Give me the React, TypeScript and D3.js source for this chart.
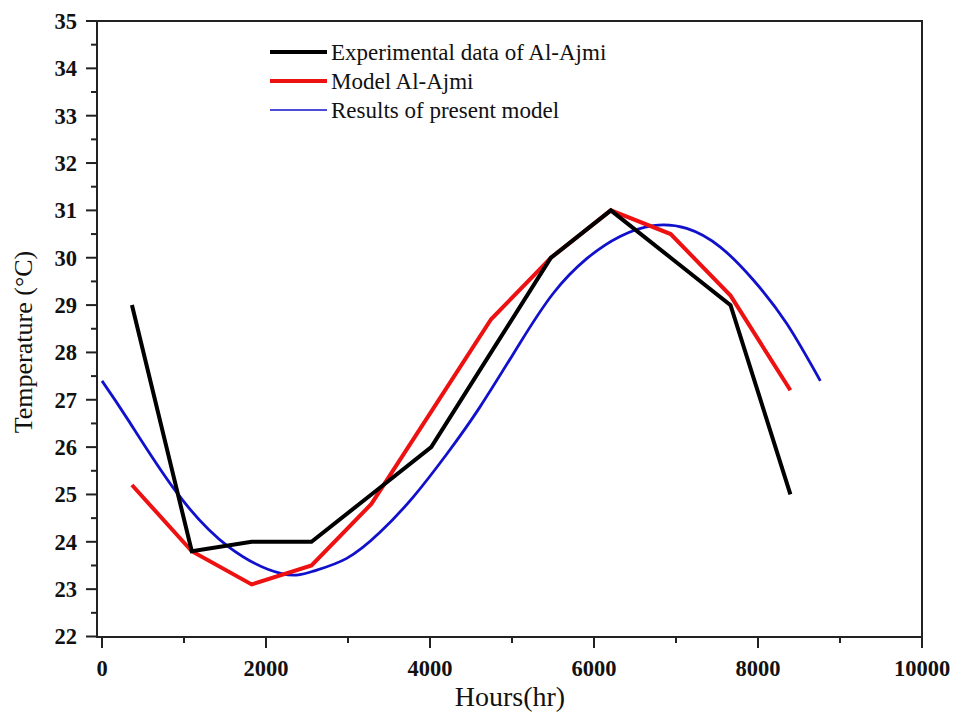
import React from "react";
import * as d3 from "d3";

const hoursMonthly = [365, 1095, 1825, 2555, 3285, 4015, 4745, 5475, 6205, 6935, 7665, 8395];
const experimental = [29.0, 23.8, 24.0, 24.0, 25.0, 26.0, 28.0, 30.0, 31.0, 30.0, 29.0, 25.0];
const modelAlAjmi = [25.2, 23.8, 23.1, 23.5, 24.8, 26.75, 28.7, 30.0, 31.0, 30.5, 29.2, 27.2];

const presentHours = [0, 320, 890, 1540, 2190, 2577, 2984, 3390, 3797, 4203, 4610, 5098, 5504, 5911, 6317, 6723, 7130, 7537, 7943, 8350, 8760];
const presentModel = [27.4, 26.57, 25.09, 23.9, 23.33, 23.38, 23.65, 24.2, 24.95, 25.85, 26.85, 28.2, 29.25, 29.98, 30.45, 30.68, 30.62, 30.23, 29.53, 28.61, 27.4];

const xTicks = [0, 2000, 4000, 6000, 8000, 10000];
const xMinor = [1000, 3000, 5000, 7000, 9000];
const yTicks = [22, 23, 24, 25, 26, 27, 28, 29, 30, 31, 32, 33, 34, 35];
const yMinor = [22.5, 23.5, 24.5, 25.5, 26.5, 27.5, 28.5, 29.5, 30.5, 31.5, 32.5, 33.5, 34.5];

const legendItems = ["Experimental data of Al-Ajmi", "Model Al-Ajmi", "Results of present model"];

export default function App() {
  const W = 958, H = 720;
  const left = 97, right = 922, top = 21, bottom = 637;
  const x = d3.scaleLinear().domain([0, 10000]).range([102, 922]);
  const y = d3.scaleLinear().domain([22, 35]).range([636.5, 21]);
  const serif = "'Liberation Serif', 'Times New Roman', serif";

  const poly = d3.line<number>().x((_, i) => x(hoursMonthly[i])).y((d) => y(d));
  const smooth = d3
    .line<number>()
    .x((_, i) => x(presentHours[i]))
    .y((d) => y(d))
    .curve(d3.curveNatural);

  const colors = ["#000000", "#ee1111", "#1111cc"];
  const legendWidths = [4, 4, 1.6];
  const legendY = [52, 81, 110];

  return (
    <svg width={W} height={H} style={{ position: "absolute", left: 0, top: 0, background: "#fff" }}>
      <rect x={0} y={0} width={W} height={H} fill="#fff" />
      {/* data */}
      <path d={smooth(presentModel) || ""} fill="none" stroke={colors[2]} strokeWidth={2.8} />
      <path d={poly(modelAlAjmi) || ""} fill="none" stroke={colors[1]} strokeWidth={4} strokeLinejoin="miter" />
      <path d={poly(experimental) || ""} fill="none" stroke={colors[0]} strokeWidth={4} strokeLinejoin="miter" />

      {/* frame */}
      <path d={`M${left},${top} H${right} V${bottom} H${left} Z`} fill="none" stroke="#222" strokeWidth={2} />

      {/* x ticks */}
      {xTicks.map((t) => (
        <g key={"xt" + t}>
          <line x1={x(t)} x2={x(t)} y1={bottom} y2={bottom + 11} stroke="#222" strokeWidth={2} />
          <text x={x(t)} y={676} textAnchor="middle" fontFamily={serif} fontWeight="bold" fontSize={22.5} fill="#111">
            {t}
          </text>
        </g>
      ))}
      {xMinor.map((t) => (
        <line key={"xm" + t} x1={x(t)} x2={x(t)} y1={bottom} y2={bottom + 6} stroke="#222" strokeWidth={2} />
      ))}

      {/* y ticks */}
      {yTicks.map((t) => (
        <g key={"yt" + t}>
          <line x1={left - 11} x2={left} y1={y(t)} y2={y(t)} stroke="#222" strokeWidth={2} />
          <text x={77} y={y(t)} dy="0.35em" textAnchor="end" fontFamily={serif} fontWeight="bold" fontSize={22.5} fill="#111">
            {t}
          </text>
        </g>
      ))}
      {yMinor.map((t) => (
        <line key={"ym" + t} x1={left - 6} x2={left} y1={y(t)} y2={y(t)} stroke="#222" strokeWidth={2} />
      ))}

      {/* axis titles */}
      <text x={510} y={706} textAnchor="middle" fontFamily={serif} fontSize={28} fill="#111">
        Hours(hr)
      </text>
      <text
        transform={`translate(32,342) rotate(-90)`}
        textAnchor="middle"
        fontFamily={serif}
        fontSize={26}
        fill="#111"
      >
        Temperature (°C)
      </text>

      {/* legend */}
      {legendItems.map((name, i) => (
        <g key={name}>
          <line x1={270} x2={327} y1={legendY[i]} y2={legendY[i]} stroke={colors[i]} strokeWidth={legendWidths[i]} />
          <text x={331} y={legendY[i]} dy="0.33em" fontFamily={serif} fontSize={23} fill="#111">
            {name}
          </text>
        </g>
      ))}
    </svg>
  );
}
